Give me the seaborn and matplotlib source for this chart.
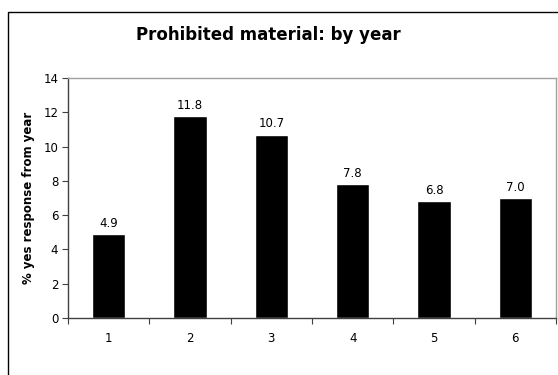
import numpy as np
import pandas as pd
import matplotlib
matplotlib.use("Agg")
import matplotlib.pyplot as plt
import seaborn as sns
from matplotlib.patches import Rectangle

years = ["1", "2", "3", "4", "5", "6"]
pct_yes = [4.9, 11.8, 10.7, 7.8, 6.8, 7.0]

sns.set_style("white")
plt.rcParams["font.family"] = ["DejaVu Sans"]
plt.rcParams["text.color"] = "black"
plt.rcParams["xtick.color"] = "black"
plt.rcParams["ytick.color"] = "black"
plt.rcParams["axes.labelcolor"] = "black"

df = pd.DataFrame({"year": years, "pct": pct_yes})

fig = plt.figure(figsize=(5.58, 3.75), dpi=100)
ax = fig.add_axes([68 / 558, 1 - 318 / 375, 488 / 558, 240 / 375])

sns.barplot(data=df, x="year", y="pct", color="black", width=0.41,
            saturation=1, ax=ax)
ax.bar_label(ax.containers[0], fmt="%.1f", padding=3, fontsize=8.5)

ax.set_ylim(0, 14)
ax.set_yticks(np.arange(0, 15, 2))
ax.set_xlim(-0.5, 5.5)
ax.set_xlabel("")
ax.set_ylabel("% yes response from year", fontsize=8.5, fontweight="bold", labelpad=6)
ax.tick_params(axis="y", length=4, width=0.8, color="#404040", labelsize=8.5, pad=3, left=True)
ax.tick_params(axis="x", which="major", length=0, labelsize=8.5, pad=10)
ax.set_xticks(np.arange(-0.5, 6, 1), minor=True)
ax.tick_params(axis="x", which="minor", length=4, width=0.8, color="#404040", bottom=True)

for side in ["left", "bottom"]:
    ax.spines[side].set_color("#404040")
    ax.spines[side].set_linewidth(1.0)
for side in ["top", "right"]:
    ax.spines[side].set_visible(True)
    ax.spines[side].set_color("#a0a0a0")
    ax.spines[side].set_linewidth(1.0)

fig.text(268 / 558, 1 - 35 / 375, "Prohibited material: by year", ha="center", va="center",
         fontsize=12, fontweight="bold")

# outer chart border
fig.patches.append(Rectangle((8 / 558, -0.05), 1.0, 1 - 12 / 375 + 0.05,
                             transform=fig.transFigure, fill=False,
                             edgecolor="black", linewidth=1.0, clip_on=False))

fig.savefig("out.png", dpi=100)
